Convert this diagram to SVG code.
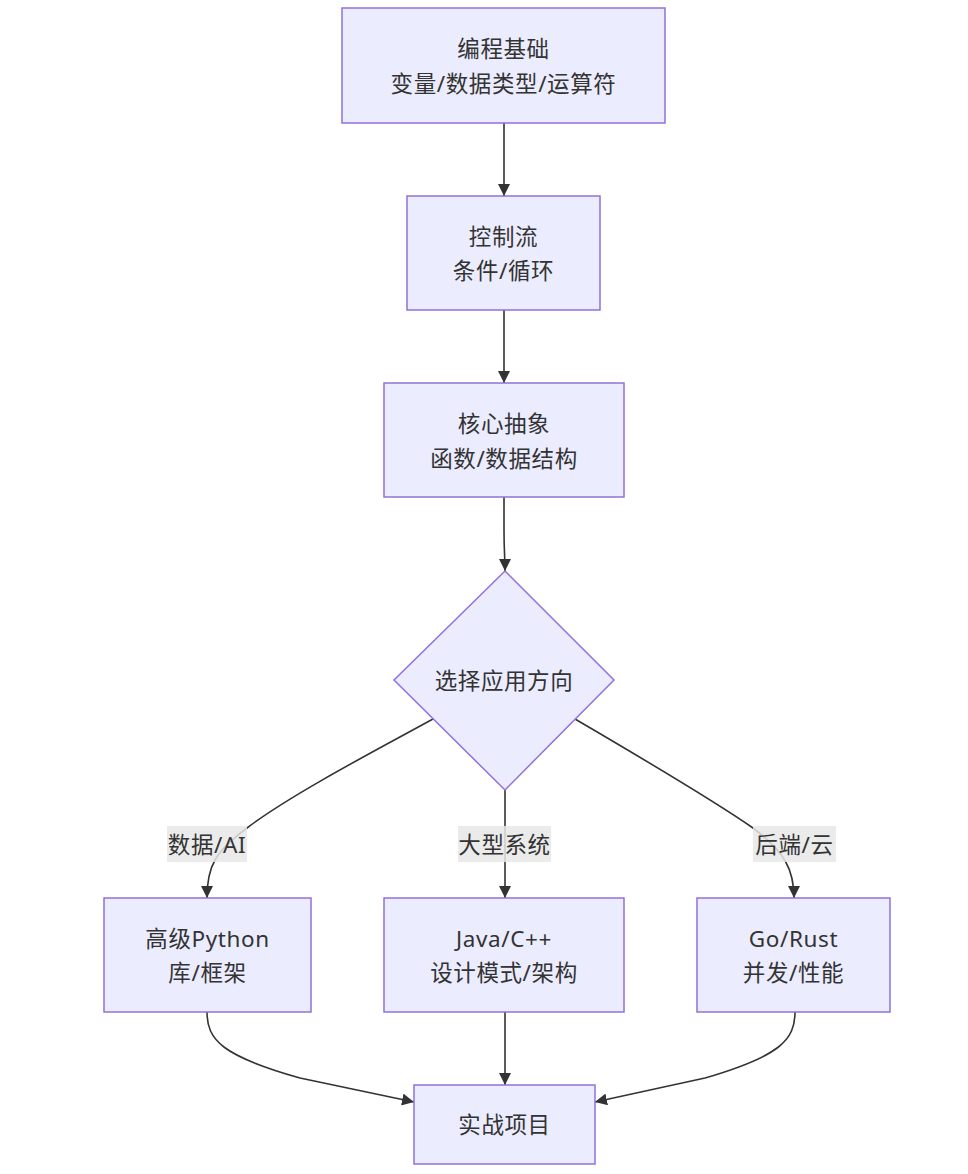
<svg xmlns="http://www.w3.org/2000/svg" width="968" height="1174" viewBox="0 0 968 1174">
<defs>
<marker id="arr" viewBox="0 0 10 10" refX="10" refY="5" markerUnits="userSpaceOnUse" markerWidth="12" markerHeight="12" orient="auto">
<path d="M0,0 L10,5 L0,10 z" fill="#333333"/>
</marker>
</defs>
<style>
.node rect, .node polygon { fill: #ECECFF; stroke: #9370DB; stroke-width: 1.5; }
.t { font-family: "Noto Sans", "Noto Sans CJK SC", sans-serif; font-size: 22.5px; letter-spacing: 0.6px; fill: #333333; text-anchor: middle; dominant-baseline: central; }
.edge { fill: none; stroke: #333333; stroke-width: 1.6; marker-end: url(#arr); }
.lbg { fill: #e8e8e8; fill-opacity: 0.85; }
</style>
<rect width="968" height="1174" fill="#ffffff"/>
<g id="connectors">
<path class="edge" d="M504,123 L504,196"/>
<path class="edge" d="M504,310 L504,383"/>
<path class="edge" d="M504,497 L504,530 C504,552 505,556 505,571"/>
<path class="edge" d="M433,719 C380,748 290,795 247,828 C215,852 207,866 207,898"/>
<path class="edge" d="M505,790 L505,898"/>
<path class="edge" d="M575,719 C640,757 720,805 753,828 C785,852 794,870 794,898"/>
<path class="edge" d="M207,1012 C207,1040 222,1056 300,1078 L414,1102"/>
<path class="edge" d="M505,1012 L505,1085"/>
<path class="edge" d="M795,1012 C795,1040 780,1056 705,1078 L595,1102"/>
</g>
<g id="edge-labels">
<g id="label-data-ai"><rect class="lbg" x="167" y="826" width="80" height="36"/><text class="t" x="207" y="844">数据/AI</text></g>
<g id="label-big-system"><rect class="lbg" x="458" y="826" width="93" height="36"/><text class="t" x="504.5" y="844">大型系统</text></g>
<g id="label-backend"><rect class="lbg" x="753" y="826" width="83" height="36"/><text class="t" x="794.5" y="844">后端/云</text></g>
</g>
<g id="n1" class="node"><rect x="342" y="8" width="323" height="115"/><text class="t" x="503.5" y="48">编程基础</text><text class="t" x="503.5" y="83">变量/数据类型/运算符</text></g>
<g id="n2" class="node"><rect x="407" y="196" width="193" height="114"/><text class="t" x="503.5" y="236">控制流</text><text class="t" x="503.5" y="270">条件/循环</text></g>
<g id="n3" class="node"><rect x="384" y="383" width="240" height="114"/><text class="t" x="504" y="423">核心抽象</text><text class="t" x="504" y="458">函数/数据结构</text></g>
<g id="n4" class="node"><polygon points="505,571 614,680 505,790 394,680"/><text class="t" x="504" y="680">选择应用方向</text></g>
<g id="n5" class="node"><rect x="104" y="898" width="207" height="114"/><text class="t" x="207.5" y="938">高级Python</text><text class="t" x="207.5" y="972">库/框架</text></g>
<g id="n6" class="node"><rect x="384" y="898" width="240" height="114"/><text class="t" x="504" y="938">Java/C++</text><text class="t" x="504" y="972">设计模式/架构</text></g>
<g id="n7" class="node"><rect x="697" y="898" width="193" height="114"/><text class="t" x="793.5" y="938">Go/Rust</text><text class="t" x="793.5" y="972">并发/性能</text></g>
<g id="n8" class="node"><rect x="414" y="1085" width="181" height="79"/><text class="t" x="504.5" y="1124">实战项目</text></g>
</svg>
